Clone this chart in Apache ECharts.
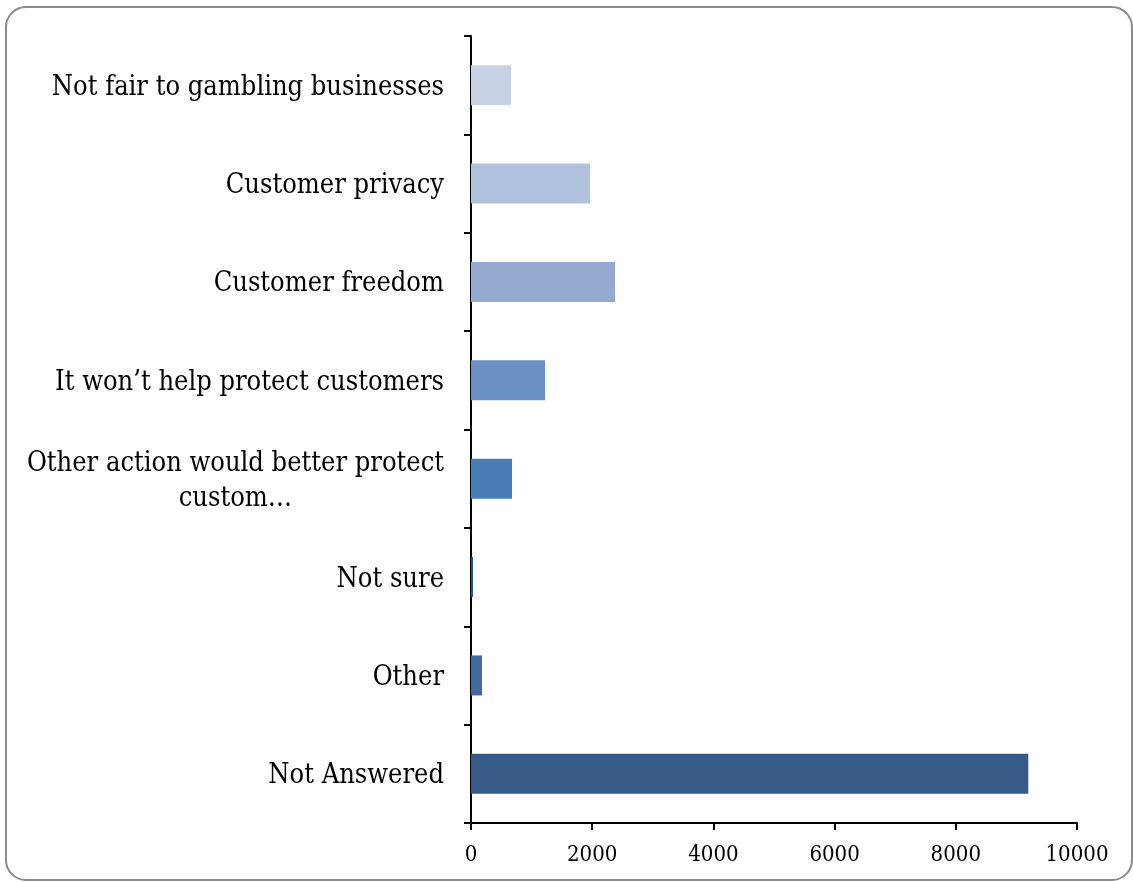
<!DOCTYPE html>
<html>
<head>
<meta charset="utf-8">
<script src="https://cdn.jsdelivr.net/npm/echarts@6/dist/echarts.min.js"></script>
<style>
  html, body { margin: 0; padding: 0; background: #fff; }
  #chart { width: 1133px; height: 882px; }
</style>
</head>
<body>
<div id="chart"></div>
<script>
// Reasons given (top to bottom) and number of responses for each
const categories = [
  'Not fair to gambling businesses',
  'Customer privacy',
  'Customer freedom',
  'It won\u2019t help protect customers',
  'Other action would better protect custom\u2026',
  'Not sure',
  'Other',
  'Not Answered'
];
const responses = [660, 1965, 2377, 1222, 677, 33, 182, 9196];
const xTicks = [0, 2000, 4000, 6000, 8000, 10000];

// Blue shades, light to dark
const barColors = ['#C8D2E5', '#B0C1DC', '#95AAD0', '#6B90C4', '#4A7CB7', '#1F5591', '#426A9E', '#375A86'];

const serif = '"DejaVu Serif Condensed", "Liberation Serif", serif';

const chart = echarts.init(document.getElementById('chart'), null, { renderer: 'canvas' });

chart.setOption({
  animation: false,
  backgroundColor: '#ffffff',
  graphic: [{
    type: 'rect',
    shape: { x: 6, y: 7, width: 1126, height: 873, r: 20 },
    style: { fill: 'none', stroke: '#8a8a8a', lineWidth: 2 },
    silent: true,
    z: -1
  }],
  grid: { left: 471, right: 56, top: 36, bottom: 59, containLabel: false },
  xAxis: {
    type: 'value',
    min: xTicks[0],
    max: xTicks[xTicks.length - 1],
    interval: xTicks[1] - xTicks[0],
    axisLine: { show: true, lineStyle: { color: '#000', width: 2 } },
    axisTick: { show: true, length: 7, lineStyle: { color: '#000', width: 2 } },
    axisLabel: {
      color: '#000', fontFamily: serif, fontSize: 22, margin: 21,
      formatter: v => String(v)
    },
    splitLine: { show: false }
  },
  yAxis: {
    type: 'category',
    inverse: true,
    data: categories,
    axisLine: { show: true, lineStyle: { color: '#000', width: 2 } },
    axisTick: { show: true, length: 7, lineStyle: { color: '#000', width: 2 } },
    axisLabel: {
      color: '#000',
      fontFamily: serif,
      fontSize: 27,
      margin: 27,
      lineHeight: 35,
      padding: [5, 0, 0, 0],
      formatter: function (v) {
        if (v.indexOf('Other action') === 0) {
          return '{a|Other action would better protect}\n{c|custom\u2026}';
        }
        return v;
      },
      rich: {
        a: { fontFamily: serif, fontSize: 27, color: '#000', lineHeight: 35 },
        c: { fontFamily: serif, fontSize: 27, color: '#000', lineHeight: 35, align: 'center' }
      }
    }
  },
  series: [{
    type: 'bar',
    barWidth: 40,
    data: responses.map((v, i) => ({ value: v, itemStyle: { color: barColors[i] } }))
  }]
});
</script>
</body>
</html>
